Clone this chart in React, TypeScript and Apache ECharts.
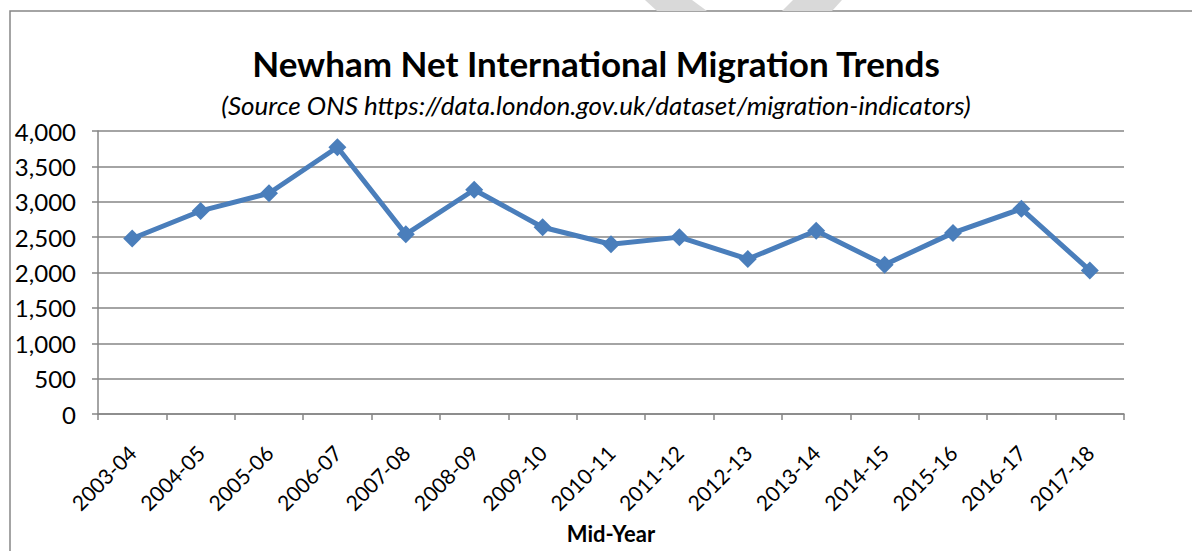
import React, { useEffect, useRef } from "react";
import * as echarts from "echarts";

const categories = [
  "2003-04", "2004-05", "2005-06", "2006-07", "2007-08", "2008-09", "2009-10",
  "2010-11", "2011-12", "2012-13", "2013-14", "2014-15", "2015-16", "2016-17", "2017-18",
];
const netMigration = [2480, 2870, 3120, 3770, 2540, 3170, 2640, 2400, 2500, 2190, 2590, 2110, 2560, 2900, 2030];

const titleText = "Newham Net International Migration Trends";
const subtitleText = "(Source ONS https://data.london.gov.uk/dataset/migration-indicators)";
const xAxisName = "Mid-Year";

const FONT = "Lato, 'Open Sans', sans-serif";

export default function App() {
  const ref = useRef<HTMLDivElement>(null);
  useEffect(() => {
    if (!ref.current) return;
    const chart = echarts.init(ref.current, null, { renderer: "svg" });
    const grey = "#868686";
    chart.setOption({
      animation: false,
      backgroundColor: "#ffffff",
      textStyle: { fontFamily: FONT },
      title: [
        {
          text: titleText,
          left: "center",
          top: 40,
          textStyle: { fontFamily: FONT, fontSize: 35, fontWeight: "bold", color: "#000" },
        },
        {
          text: subtitleText,
          left: "center",
          top: 87,
          textStyle: { fontFamily: FONT, fontSize: 26, fontStyle: "italic", fontWeight: "normal", color: "#000" },
        },
      ],
      graphic: [
        { type: "rect", shape: { x: 10, y: 11, width: 1200, height: 560 }, style: { fill: "none", stroke: grey, lineWidth: 1.5 }, silent: true },
        { type: "polygon", shape: { points: [[645, 0], [692, 0], [707, 11], [657, 11]] }, style: { fill: "#d9d9d9" }, silent: true },
        { type: "polygon", shape: { points: [[793, 0], [842, 0], [832, 11], [782, 11]] }, style: { fill: "#d9d9d9" }, silent: true },
      ],
      grid: { left: 98, right: 68, top: 131, bottom: 137, containLabel: false, outerBoundsMode: "none" },
      xAxis: {
        type: "category",
        data: categories,
        boundaryGap: true,
        name: xAxisName,
        nameLocation: "middle",
        nameGap: 108,
        nameTextStyle: { fontFamily: FONT, fontSize: 22, fontWeight: "bold", color: "#000" },
        axisLine: { show: true, lineStyle: { color: grey, width: 1.5 } },
        axisTick: { show: true, interval: 0, length: 6, lineStyle: { color: grey, width: 1.5 } },
        axisLabel: { interval: 0, rotate: 45, fontSize: 21, color: "#000", fontFamily: FONT, margin: 35 },
        splitLine: { show: false },
      },
      yAxis: {
        type: "value",
        min: 0,
        max: 4000,
        interval: 500,
        axisLine: { show: true, lineStyle: { color: grey, width: 1.5 } },
        axisTick: { show: true, length: 6, lineStyle: { color: grey, width: 1.5 } },
        axisLabel: {
          fontSize: 24,
          color: "#000",
          fontFamily: FONT,
          margin: 22,
          formatter: (v: number) => v.toLocaleString("en-US"),
        },
        splitLine: { show: true, lineStyle: { color: grey, width: 1.5 } },
      },
      series: [
        {
          type: "line",
          data: netMigration,
          symbol: "diamond",
          symbolSize: 18,
          lineStyle: { color: "#4A7EBB", width: 5 },
          itemStyle: { color: "#4A7EBB" },
        },
      ],
    });
    return () => chart.dispose();
  }, []);
  return <div ref={ref} style={{ width: 1192, height: 551, position: "absolute", left: 0, top: 0 }} />;
}
